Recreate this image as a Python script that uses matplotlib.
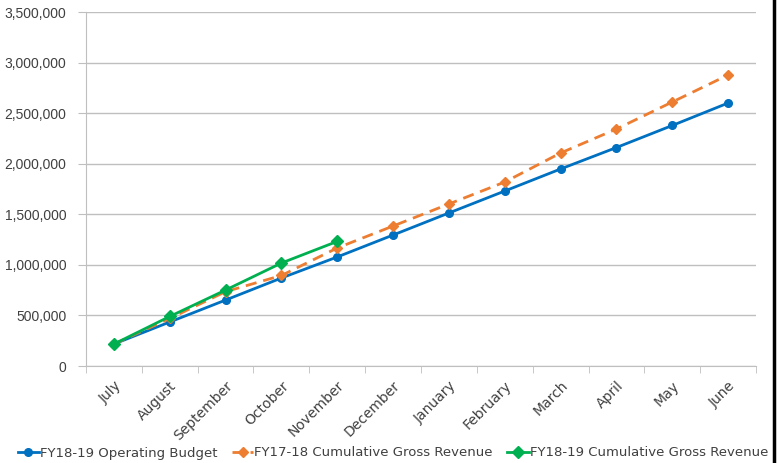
import matplotlib.pyplot as plt
from matplotlib.lines import Line2D
from matplotlib.ticker import FuncFormatter, FixedLocator
import numpy as np

months = ['July', 'August', 'September', 'October', 'November', 'December',
          'January', 'February', 'March', 'April', 'May', 'June']

budget = [217000, 435000, 652000, 870000, 1078000, 1295000,
          1513000, 1730000, 1948000, 2160000, 2378000, 2600000]
rev_1718 = [217000, 470000, 735000, 895000, 1167000, 1384000,
            1602000, 1819000, 2106000, 2343000, 2610000, 2877000]
rev_1819 = [217000, 490000, 751000, 1018000, 1232000]

blue = '#0070C0'
orange = '#ED7D31'
green = '#00B050'
grid_c = '#BFBFBF'
txt = '#404040'

fig = plt.figure(figsize=(7.78, 4.63), dpi=100)
ax = fig.add_axes([86/778, 97/463, 670/778, 354/463])

x = np.arange(len(months))
ax.plot(x, budget, color=blue, lw=2, marker='o', ms=5.5,
        label='FY18-19 Operating Budget', zorder=3)
ax.plot(x, rev_1718, color=orange, lw=2, ls=(0, (4, 2.5)), marker='D', ms=5.5,
        label='FY17-18 Cumulative Gross Revenue', zorder=3)
ax.plot(x[:len(rev_1819)], rev_1819, color=green, lw=2, marker='D', ms=6,
        label='FY18-19 Cumulative Gross Revenue', zorder=4)

ax.set_xlim(-0.5, len(months) - 0.5)
ax.set_ylim(0, 3500000)
ax.set_yticks(np.arange(0, 3500001, 500000))
ax.yaxis.set_major_formatter(FuncFormatter(lambda v, p: f'{int(v):,}'))
ax.grid(axis='y', color=grid_c, lw=1)
ax.set_axisbelow(True)

ax.set_xticks(x)
ax.set_xticklabels(months, rotation=45, ha='right', rotation_mode='anchor',
                   fontsize=10, color=txt, family='DejaVu Sans')
ax.tick_params(axis='x', length=0, pad=9)
ax.xaxis.set_minor_locator(FixedLocator(np.arange(-0.5, len(months), 1)))
ax.tick_params(axis='x', which='minor', length=5, color=grid_c)
ax.tick_params(axis='y', length=6, color=grid_c, labelsize=10, labelcolor=txt, pad=8)
for lab in ax.get_yticklabels():
    lab.set_family('Liberation Sans')

for s in ['top', 'right']:
    ax.spines[s].set_visible(False)
ax.spines['left'].set_color(grid_c)
ax.spines['bottom'].set_color(grid_c)

h, l = ax.get_legend_handles_labels()
fig.legend(h, l, loc='center', bbox_to_anchor=(0.505, 10/463), ncol=3, frameon=False,
           prop={'family': 'DejaVu Sans', 'size': 9.5}, labelcolor=txt, handlelength=1.6,
           handletextpad=0.1, columnspacing=1.1, borderaxespad=0, borderpad=0)

# black edge at right side of the image
fig.add_artist(Line2D([774/778, 774/778], [0, 1], color='black', lw=2.5,
                      transform=fig.transFigure))

fig.savefig('out.png', dpi=100)
